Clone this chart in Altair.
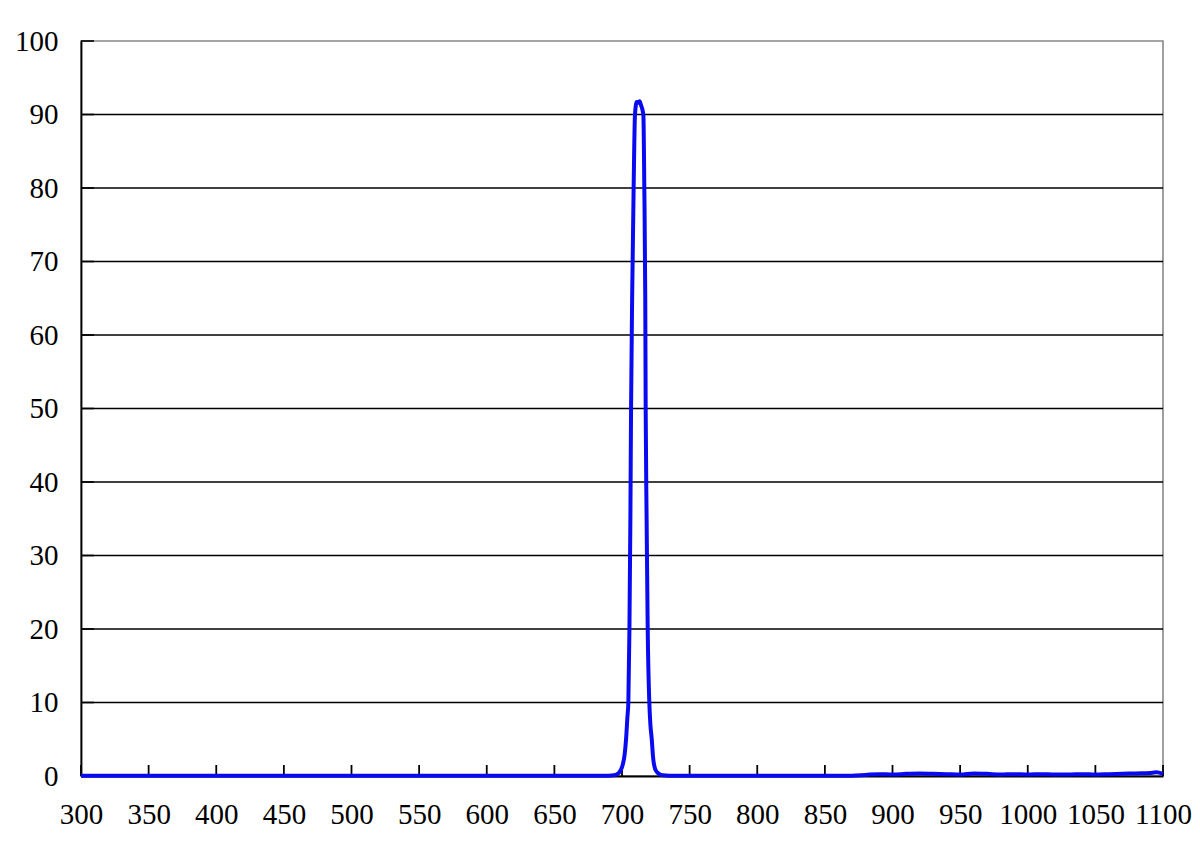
import altair as alt
import pandas as pd

wavelength = [300, 350, 400, 450, 500, 550, 600, 650, 680, 690, 694, 696, 698, 700,
              702, 703, 704, 704.7, 705.5, 706.2, 706.7, 707.5, 708.6, 709.6, 710.9,
              712, 713, 713.8, 715.8, 716.5, 717.2, 717.5, 718.2, 719, 720.2, 721,
              722, 723, 724.4, 726, 728, 730, 735, 740, 760, 800, 840, 870, 880, 890,
              900, 910, 920, 930, 940, 950, 960, 970, 980, 990, 1000, 1010, 1020,
              1030, 1040, 1050, 1060, 1070, 1080, 1090, 1095, 1100]
transmission = [0.05, 0.05, 0.05, 0.05, 0.05, 0.05, 0.05, 0.05, 0.05, 0.05, 0.1, 0.2, 0.5, 1.2,
                3.0, 5.0, 8.0, 10.0, 20.0, 35.0, 50.0, 65.0, 80.0, 90.0, 91.7,
                91.6, 91.8, 91.4, 90.0, 80.0, 65.0, 50.0, 35.0, 20.0, 10.0, 7.0,
                5.0, 2.5, 1.0, 0.5, 0.2, 0.1, 0.05, 0.05, 0.05, 0.05, 0.05, 0.05, 0.15, 0.25,
                0.2, 0.3, 0.35, 0.3, 0.25, 0.2, 0.35, 0.3, 0.2, 0.25, 0.2, 0.25, 0.2,
                0.2, 0.25, 0.2, 0.25, 0.3, 0.35, 0.4, 0.5, 0.3]

x_ticks = [300, 350, 400, 450, 500, 550, 600, 650, 700, 750, 800, 850, 900, 950,
           1000, 1050, 1100]
y_ticks = [0, 10, 20, 30, 40, 50, 60, 70, 80, 90, 100]
grid_vals = [10, 20, 30, 40, 50, 60, 70, 80, 90]

W, H = 1082, 735
FONT = "Liberation Serif"

curve = pd.DataFrame({"w": wavelength, "t": transmission})
xt = pd.DataFrame({"x": x_ticks})
yt = pd.DataFrame({"y": y_ticks})
gv = pd.DataFrame({"y": grid_vals})

xscale = alt.Scale(domain=[300, 1100], nice=False, zero=False)
yscale = alt.Scale(domain=[0, 100], nice=False)

grid = alt.Chart(gv).mark_rule(color="black", strokeWidth=1.6).encode(
    y=alt.Y("y:Q", scale=yscale),
    x=alt.value(0), x2=alt.value(W),
)

ytick_marks = alt.Chart(yt).mark_rule(color="black", strokeWidth=1.6).encode(
    y=alt.Y("y:Q", scale=yscale),
    x=alt.value(0), x2=alt.value(13),
)

xtick_marks = alt.Chart(xt).mark_rule(color="black", strokeWidth=1.8).encode(
    x=alt.X("x:Q", scale=xscale),
    y=alt.value(H), y2=alt.value(H - 11),
)

line = alt.Chart(curve).mark_line(color="#0a0af0", strokeWidth=4, interpolate="monotone").encode(
    x=alt.X("w:Q", scale=xscale, title=None,
            axis=alt.Axis(values=x_ticks, format="d", ticks=False, grid=False,
                          domainColor="black", domainWidth=1.8, labelFont=FONT,
                          labelFontSize=29, labelColor="black", labelPadding=24,
                          labelOverlap=False, labelFlush=False, labelBound=False)),
    y=alt.Y("t:Q", scale=yscale, title=None,
            axis=alt.Axis(values=y_ticks, format="d", ticks=False, grid=False,
                          domainColor="black", domainWidth=1.8, labelFont=FONT,
                          labelFontSize=29, labelColor="black", labelPadding=23,
                          labelOverlap=False)),
)

chart = alt.layer(grid, ytick_marks, xtick_marks, line).properties(
    width=W, height=H,
    autosize=alt.AutoSizeParams(type="none"),
    padding={"left": 73, "top": 33, "right": 29, "bottom": 82},
    background="white",
).configure_view(stroke="#888888", strokeWidth=1.6)

chart.save("out.html", embed_options={"renderer": "svg", "actions": False})
